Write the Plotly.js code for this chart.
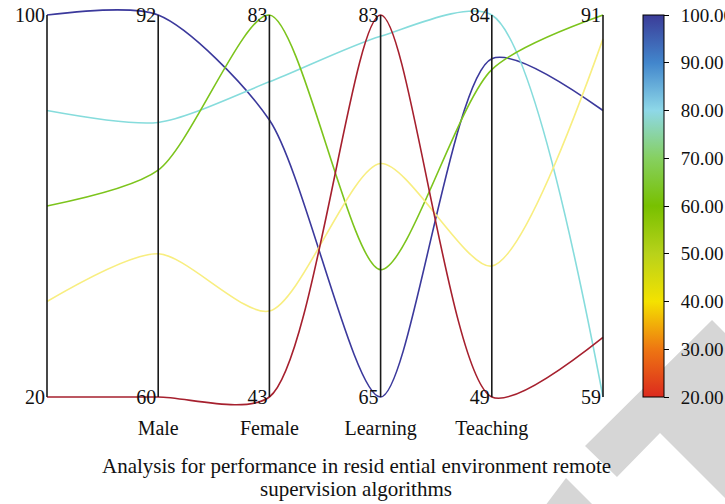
<!DOCTYPE html>
<html>
<head>
<meta charset="utf-8">
<script src="https://cdn.plot.ly/plotly-3.0.1.min.js"></script>
<style>html,body{margin:0;padding:0;background:#fff;}#chart{width:725px;height:504px;}</style>
</head>
<body>
<div id="chart"></div>
<script>
// ---- data ----
var dimensionLabels = ['', 'Male', 'Female', 'Learning', 'Teaching', ''];
var dimMin = [20, 60, 43, 65, 49, 59];
var dimMax = [100, 92, 83, 83, 84, 91];
var seriesNavy   = [100, 92, 72, 65, 80, 83];
var seriesCyan   = [80, 83, 76, 82, 84, 59];
var seriesGreen  = [60, 79, 83, 71, 79, 91];
var seriesYellow = [40, 72, 52, 76, 61, 89];
var seriesRed    = [20, 60, 43, 83, 49, 64];
var colorTicks = [20, 30, 40, 50, 60, 70, 80, 90, 100];
var titleLines = ['Analysis for performance in resid ential environment remote', 'supervision algorithms'];

// ---- styles / layout geometry ----
var allSeries = [seriesNavy, seriesCyan, seriesGreen, seriesYellow, seriesRed];
var lineColors = ['#3b399c', '#86dcdc', '#7cc41c', '#f8ee80', '#a6202e'];
var colorscale = [
  [0.0, '#dc2a1e'], [0.125, '#ee7612'], [0.25, '#f4e200'], [0.375, '#b8d21a'],
  [0.5, '#78c000'], [0.625, '#86d060'], [0.75, '#8ed8e8'], [0.875, '#4286cc'], [1.0, '#3b3c98']
];
var FONT = 'Liberation Serif, Times New Roman, serif';
var W = 725, H = 504;
var ML = 37, MR = 112, MT = 5, MB = 97;          // plot area 37..613 x 5..407
var PW = W - ML - MR, PH = H - MT - MB;
var AX0 = 47, AX1 = 603, AY0 = 15, AY1 = 397;    // where the data axes sit
var nDim = dimensionLabels.length;
var xPad = (AX0 - ML) / (AX1 - AX0) * (nDim - 1);
var yPad = (AY0 - MT) / (AY1 - AY0);
function pxX(x) { return (x - ML) / PW; }
function pxY(y) { return (H - MB - y) / PH; }

var xs = dimensionLabels.map(function (_, i) { return i; });
function norm(v, i) { return (v - dimMin[i]) / (dimMax[i] - dimMin[i]); }

var traces = [];
// axis lines, one per dimension, on that dimension's own scale
dimensionLabels.forEach(function (lab, i) {
  traces.push({
    type: 'scatter', mode: 'lines', x: [i, i], y: [dimMin[i], dimMax[i]],
    yaxis: 'y' + (i + 2), line: { width: 1.6, color: '#1a1a1a' },
    hoverinfo: 'skip', showlegend: false
  });
});
allSeries.forEach(function (s, k) {
  traces.push({
    type: 'scatter', mode: 'lines', x: xs, y: s.map(norm),
    line: { shape: 'spline', smoothing: 0.75, color: lineColors[k], width: 1.6 },
    hoverinfo: 'skip', showlegend: false
  });
});
// colour bar driven by the first-axis values
var GAP = '<span style="font-size:16px;color:rgba(0,0,0,0)">0</span>';
traces.push({
  type: 'scatter', mode: 'markers',
  x: allSeries.map(function () { return 0; }),
  y: allSeries.map(function (s) { return norm(s[0], 0); }),
  marker: {
    size: 0.1, opacity: 0, color: allSeries.map(function (s) { return s[0]; }),
    cmin: 20, cmax: 100, colorscale: colorscale, showscale: true,
    colorbar: {
      x: pxX(643), xanchor: 'left', xpad: 0,
      y: pxY((AY0 + AY1) / 2), yanchor: 'middle', ypad: 0,
      len: AY1 - AY0, lenmode: 'pixels', thickness: 21,
      outlinecolor: '#000', outlinewidth: 1,
      tickvals: colorTicks,
      ticktext: colorTicks.map(function (v) { return GAP + v.toFixed(2); }),
      ticks: 'outside', ticklen: 5,
      tickcolor: '#000', tickfont: { family: FONT, size: 19, color: '#111' }
    }
  },
  hoverinfo: 'skip', showlegend: false
});

function poly(pts) {
  return 'M ' + pts.map(function (p) { return pxX(p[0]).toFixed(4) + ' ' + pxY(p[1]).toFixed(4); }).join(' L ') + ' Z';
}

var layout = {
  width: W, height: H,
  margin: { l: ML, r: MR, t: MT, b: MB, autoexpand: false },
  paper_bgcolor: '#fff', plot_bgcolor: 'rgba(0,0,0,0)',
  showlegend: false,
  font: { family: FONT, size: 20, color: '#111' },
  xaxis: {
    range: [-xPad, nDim - 1 + xPad], showgrid: false, zeroline: false, showline: false,
    tickvals: xs, ticktext: dimensionLabels, ticks: '', ticklabelstandoff: 7,
    tickfont: { family: FONT, size: 20, color: '#111' }, fixedrange: true
  },
  yaxis: { range: [-yPad, 1 + yPad], visible: false, fixedrange: true },
  annotations: [
    { xref: 'paper', yref: 'paper', x: pxX(356), y: pxY(466), xanchor: 'center', yanchor: 'middle',
      showarrow: false, text: titleLines[0], font: { family: FONT, size: 21, color: '#111' } },
    { xref: 'paper', yref: 'paper', x: pxX(356), y: pxY(489), xanchor: 'center', yanchor: 'middle',
      showarrow: false, text: titleLines[1], font: { family: FONT, size: 21, color: '#111' } }
  ],
  shapes: [
    { type: 'path', xref: 'paper', yref: 'paper', layer: 'below',
      path: poly([[585, 446], [712, 320], [800, 408], [800, 573], [660, 433], [617, 477]]),
      fillcolor: '#d6d6d6', line: { width: 0 } },
    { type: 'path', xref: 'paper', yref: 'paper', layer: 'below',
      path: poly([[566, 478], [594, 506], [545, 506]]),
      fillcolor: '#d6d6d6', line: { width: 0 } }
  ]
};

dimensionLabels.forEach(function (lab, i) {
  var span = dimMax[i] - dimMin[i];
  layout['yaxis' + (i + 2)] = {
    overlaying: 'y', anchor: 'free', side: 'left',
    position: pxX(AX0 + i * (AX1 - AX0) / (nDim - 1)),
    range: [dimMin[i] - yPad * span, dimMax[i] + yPad * span],
    tickvals: [dimMin[i], dimMax[i]], ticktext: [String(dimMin[i]), String(dimMax[i])],
    ticks: '', showgrid: false, zeroline: false, showline: false, ticklabelstandoff: 2,
    tickfont: { family: FONT, size: 20, color: '#111' }, fixedrange: true
  };
});

Plotly.newPlot('chart', traces, layout, { displayModeBar: false, staticPlot: true });
</script>
</body>
</html>
